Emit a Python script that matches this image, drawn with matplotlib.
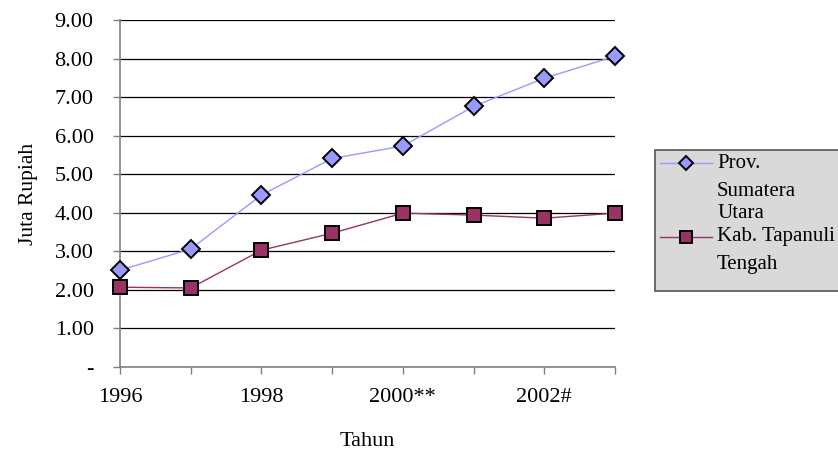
import matplotlib
matplotlib.use('Agg')
import matplotlib.pyplot as plt
from matplotlib.lines import Line2D
from matplotlib.patches import Rectangle

# data
tahun = ['1996', '1997', '1998', '1999', '2000**', '2001', '2002#', '2003']
tick_labels = ['1996', '', '1998', '', '2000**', '', '2002#', '']
prov_sumut = [2.51, 3.06, 4.46, 5.41, 5.73, 6.76, 7.49, 8.06]
kab_tapteng = [2.07, 2.05, 3.03, 3.47, 3.99, 3.94, 3.86, 3.99]
yticks = [0, 1, 2, 3, 4, 5, 6, 7, 8, 9]
ytick_labels = ['-', '1.00', '2.00', '3.00', '4.00', '5.00', '6.00', '7.00', '8.00', '9.00']

plt.rcParams['font.family'] = ['Liberation Serif', 'DejaVu Serif']

fig = plt.figure(figsize=(8.38, 4.5), dpi=100)
ax = fig.add_axes([120/838, 1-367/450, (615-120)/838, (367-20)/450])

x = list(range(len(tahun)))

# gridlines
for v in yticks[1:]:
    ax.axhline(v, color='black', lw=0.9, zorder=1)

ax.plot(x, prov_sumut, color='#9999FF', lw=1, marker='D', ms=9,
        markerfacecolor='#9999FF', markeredgecolor='black', markeredgewidth=1.4,
        zorder=3, clip_on=False)
ax.plot(x, kab_tapteng, color='#993366', lw=1, marker='s', ms=10,
        markerfacecolor='#993366', markeredgecolor='black', markeredgewidth=1.4,
        zorder=3, clip_on=False)

ax.set_xlim(0, len(tahun) - 1)
ax.set_ylim(0, 9)
ax.set_xticks(x)
ax.set_xticklabels(tick_labels, fontsize=16)
ax.set_yticks(yticks)
ax.set_yticklabels(ytick_labels, fontsize=16)
ax.tick_params(axis='both', direction='out', length=5, width=1, color='#808080')
ax.tick_params(axis='x', pad=10)
ax.tick_params(axis='y', pad=14)

for s in ['top', 'right']:
    ax.spines[s].set_visible(False)
for s in ['left', 'bottom']:
    ax.spines[s].set_color('#808080')
    ax.spines[s].set_linewidth(1.2)

ax.set_xlabel('Tahun', fontsize=16, labelpad=18)
ax.set_ylabel('Juta Rupiah', fontsize=15.5, labelpad=12)

# legend box drawn by hand to match the original layout
def fx(px):
    return px / 838

def fy(py):
    return 1 - py / 450

fig.patches.append(Rectangle((fx(655), fy(291)), fx(838) - fx(655) + 0.01, fy(150) - fy(291),
                             transform=fig.transFigure, facecolor='#D9D9D9',
                             edgecolor='#555555', lw=1.2, zorder=0))

fig.lines.append(Line2D([fx(660), fx(712)], [fy(163), fy(163)], transform=fig.transFigure,
                        color='#9999FF', lw=1, zorder=2))
fig.lines.append(Line2D([fx(686)], [fy(163)], transform=fig.transFigure, ls='none',
                        marker='D', ms=7, markerfacecolor='#9999FF',
                        markeredgecolor='black', markeredgewidth=1.4, zorder=3))
fig.lines.append(Line2D([fx(660), fx(712)], [fy(237), fy(237)], transform=fig.transFigure,
                        color='#993366', lw=1, zorder=2))
fig.lines.append(Line2D([fx(686)], [fy(237)], transform=fig.transFigure, ls='none',
                        marker='s', ms=8, markerfacecolor='#993366',
                        markeredgecolor='black', markeredgewidth=1.4, zorder=3))

legend_lines = [('Prov.', 163), ('Sumatera', 191), ('Utara', 214),
                ('Kab. Tapanuli', 236), ('Tengah', 264)]
for txt, py in legend_lines:
    fig.text(fx(717), fy(py), txt, fontsize=15, va='center', ha='left')

fig.savefig('out.png', dpi=100)
